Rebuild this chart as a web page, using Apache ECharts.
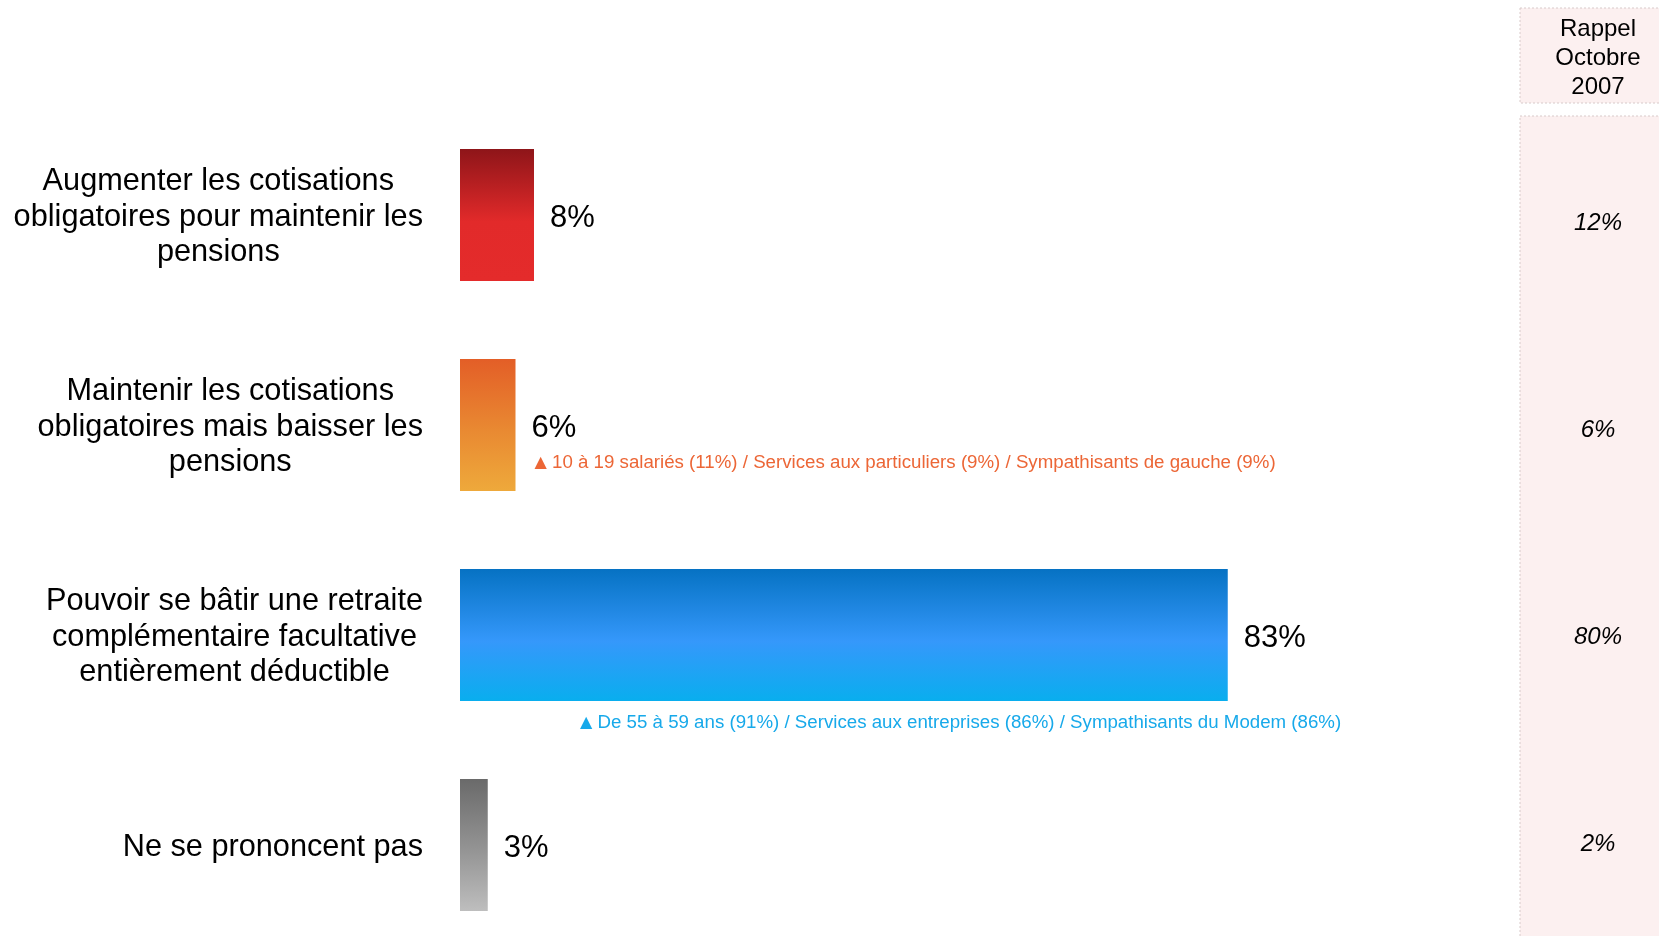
<!DOCTYPE html>
<html>
<head>
<meta charset="utf-8">
<script src="https://cdn.jsdelivr.net/npm/echarts@6/dist/echarts.min.js"></script>
<style>
  html, body { margin: 0; padding: 0; background: #fff; }
  #chart { width: 1659px; height: 936px; }
</style>
</head>
<body>
<div id="chart"></div>
<script>
const FONT = "'Liberation Sans', Arial, sans-serif";

// data
const categories = [
  "Augmenter les cotisations\nobligatoires pour maintenir les\npensions",
  "Maintenir les cotisations\nobligatoires mais baisser les\npensions",
  "Pouvoir se bâtir une retraite\ncomplémentaire facultative\nentièrement déductible",
  "Ne se prononcent pas"
];
const values = [8, 6, 83, 3];
const rappel = [12, 6, 80, 2];
const rappelTitle = "Rappel\nOctobre\n2007";
const barColors = [
  ["#8E1519", "#E22A2A", "#E42B2B"],
  ["#E35E27", "#E98A32", "#EEA93B"],
  ["#0672C3", "#3598FB", "#09AEEE"],
  ["#6A6A6A", "#959595", "#BEBEBE"]
];
const notes = [
  "",
  "10 à 19 salariés (11%) / Services aux particuliers (9%) / Sympathisants de gauche (9%)",
  "De 55 à 59 ans (91%) / Services aux entreprises (86%) / Sympathisants du Modem (86%)",
  ""
];
const noteColors = ["", "#EC6636", "#17A9EA", ""];

let myChart = echarts.init(document.getElementById("chart"));

myChart.setOption({
  animation: false,
  textStyle: { fontFamily: FONT },
  grid: [
    { left: 460, top: 110, width: 925, height: 840, outerBoundsMode: "none", containLabel: false },
    { left: 1520, top: 120, width: 156, height: 828, outerBoundsMode: "none", containLabel: false }
  ],
  xAxis: [
    { type: "value", min: 0, max: 100, show: false, gridIndex: 0 },
    { type: "value", min: 0, max: 1, show: false, gridIndex: 1 }
  ],
  yAxis: [
    {
      type: "category",
      gridIndex: 0,
      data: categories,
      inverse: true,
      axisLine: { show: false },
      axisTick: { show: false },
      splitLine: { show: false },
      axisLabel: {
        margin: 37,
        align: "right",
        padding: [5, 0, 0, 0],
        formatter: (v) => v.split("\n").map((s) => "{c|" + s + "}").join("\n"),
        rich: {
          c: { align: "center", fontSize: 30.7, lineHeight: 35.5, color: "#000", fontFamily: FONT }
        }
      }
    },
    {
      type: "category",
      gridIndex: 1,
      data: categories,
      inverse: true,
      show: false
    }
  ],
  series: [
    {
      type: "bar",
      barWidth: 132,
      data: values.map((v, i) => ({
        value: v,
        itemStyle: {
          color: new echarts.graphic.LinearGradient(0, 0, 0, 1, [
            { offset: 0, color: barColors[i][0] },
            { offset: 0.55, color: barColors[i][1] },
            { offset: 1, color: barColors[i][2] }
          ])
        }
      })),
      label: {
        show: true,
        position: "right",
        distance: 16,
        offset: [0, 3],
        fontSize: 31,
        color: "#000",
        fontFamily: FONT,
        formatter: "{c}%"
      }
    },
    {
      // Rappel Octobre 2007 column
      type: "scatter",
      xAxisIndex: 1,
      yAxisIndex: 1,
      symbolSize: 0,
      silent: true,
      itemStyle: { opacity: 1 },
      data: rappel.map((r, i) => [0.5, i]),
      label: {
        show: true,
        position: "inside",
        fontSize: 24,
        fontStyle: "italic",
        color: "#000",
        opacity: 1,
        fontFamily: FONT,
        formatter: (p) => rappel[p.dataIndex] + "%"
      }
    }
  ]
});

// right panel, header and notes
const graphics = [
  {
    type: "rect",
    shape: { x: 1520, y: 8, width: 150, height: 95 },
    style: { fill: "#FCF0F0", stroke: "#D8CACA", lineWidth: 1, lineDash: [2, 2] },
    z: -10
  },
  {
    type: "rect",
    shape: { x: 1520, y: 116, width: 150, height: 840 },
    style: { fill: "#FCF0F0", stroke: "#D8CACA", lineWidth: 1, lineDash: [2, 2] },
    z: -10
  },
  {
    type: "text",
    x: 1598,
    y: 58,
    style: {
      text: rappelTitle,
      fontSize: 24,
      lineHeight: 29,
      fontFamily: FONT,
      fill: "#000",
      textAlign: "center",
      textVerticalAlign: "middle"
    }
  }
];

notes.forEach((note, i) => {
  if (!note) return;
  const p = myChart.convertToPixel({ gridIndex: 0 }, [values[i], i]);
  const p0 = myChart.convertToPixel({ gridIndex: 0 }, [0, i]);
  const x = i === 2 ? p0[0] + 120 : p[0] + 19;
  const y = i === 2 ? p[1] + 88 : p[1] + 38;
  graphics.push({
    type: "text",
    x: x,
    y: y,
    style: {
      text: "{t|▲} " + note,
      fontSize: 18.7,
      fontFamily: FONT,
      fill: noteColors[i],
      textVerticalAlign: "middle",
      rich: {
        t: { fontSize: 16, fill: noteColors[i], fontFamily: "'DejaVu Sans', sans-serif" }
      }
    }
  });
});

myChart.setOption({ graphic: graphics });
</script>
</body>
</html>
